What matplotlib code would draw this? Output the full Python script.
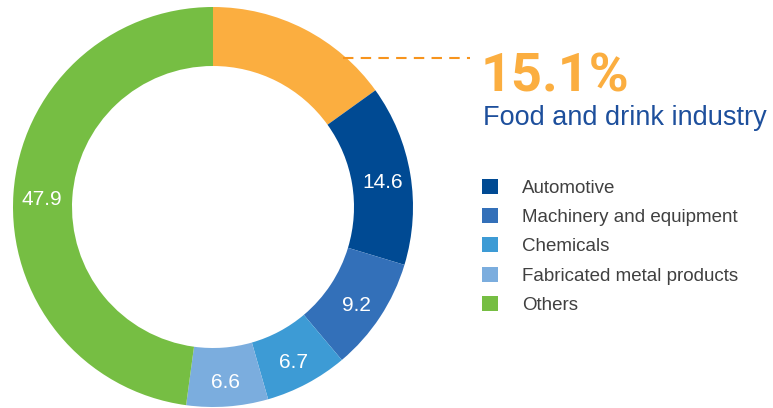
import matplotlib
matplotlib.use("Agg")
import matplotlib.pyplot as plt
import numpy as np

# sector shares (%), clockwise from 12 o'clock
sectors = ["Food and drink industry", "Automotive", "Machinery and equipment",
           "Chemicals", "Fabricated metal products", "Others"]
shares = [15.1, 14.6, 9.2, 6.7, 6.6, 47.9]
colors = ["#FBAE40", "#004A93", "#3370B9", "#3D9BD5", "#7BADDE", "#76BE43"]

fig = plt.figure(figsize=(7.73, 4.08), dpi=100)
ax = fig.add_axes([13 / 773, 1 / 408, 400 / 773, 400 / 408])

wedges, _ = ax.pie(shares, colors=colors, startangle=90, counterclock=False,
                   radius=1.0, wedgeprops=dict(width=0.295, linewidth=0))
ax.set_xlim(-1, 1)
ax.set_ylim(-1, 1)
ax.set_aspect("equal")
ax.axis("off")

# value labels in the ring (highlighted slice gets the callout instead)
total = sum(shares)
start = 0.0
for i, v in enumerate(shares):
    mid = (start + v / 2) / total * 2 * np.pi
    start += v
    if i == 0:
        continue
    r = 0.86
    ax.text(r * np.sin(mid), r * np.cos(mid) - 0.02, f"{v:.1f}", color="white",
            ha="center", va="center", fontsize=15, family="Liberation Sans")

# callout for food and drink
fig.add_artist(plt.Line2D([343 / 773, 470 / 773], [1 - 58 / 408, 1 - 58 / 408],
                          color="#F7941D", lw=1.5, ls=(0, (5, 3.5))))
fig.text(481 / 773, 1 - 92 / 408, f"{shares[0]:.1f}%", color="#FBAE40",
         fontsize=39, fontweight="bold", family="Roboto", va="baseline")
fig.text(483 / 773, 1 - 125 / 408, sectors[0], color="#1D4F9C",
         fontsize=19.5, family="Liberation Sans", va="baseline")

fig.legend(wedges[1:], sectors[1:], loc="upper left",
           bbox_to_anchor=(482 / 773, 1 - 179 / 408), frameon=False,
           borderaxespad=0, borderpad=0, handlelength=0.85, handleheight=0.85,
           handletextpad=1.3, labelspacing=0.6,
           prop=dict(family="Liberation Sans", size=13.5), labelcolor="#404040")

fig.savefig("out.png", dpi=100)
